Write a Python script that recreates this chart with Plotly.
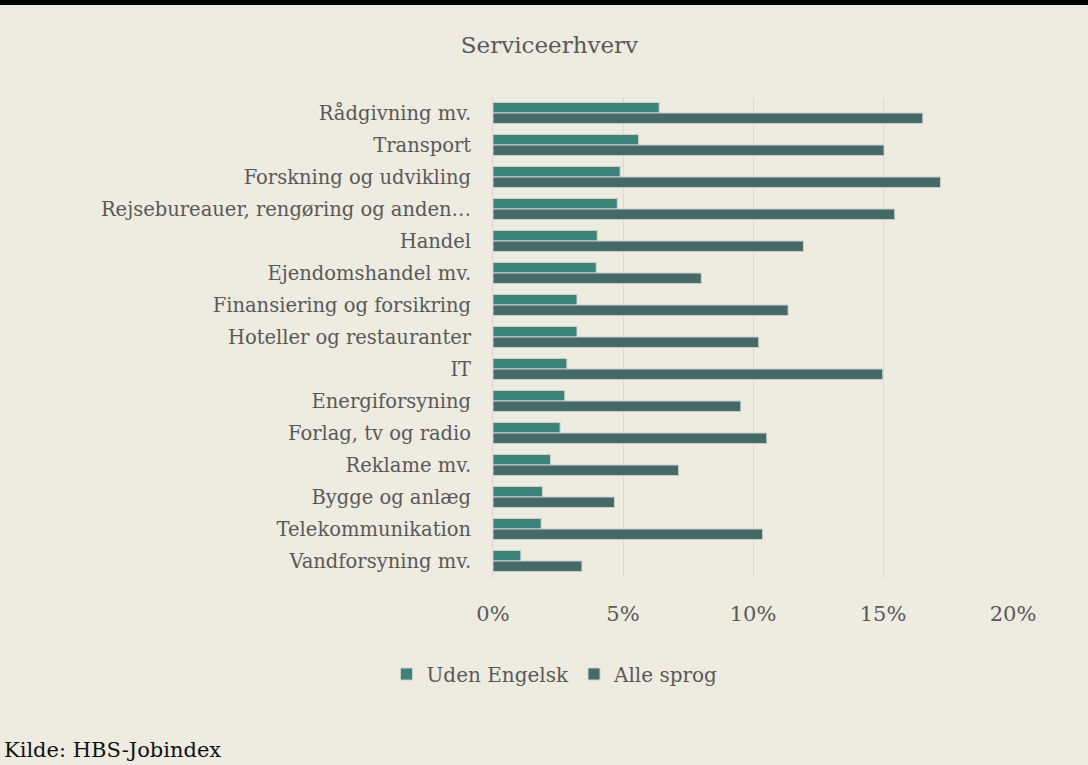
import plotly.graph_objects as go

categories = [
    "Rådgivning mv.", "Transport", "Forskning og udvikling",
    "Rejsebureauer, rengøring og anden…", "Handel", "Ejendomshandel mv.",
    "Finansiering og forsikring", "Hoteller og restauranter", "IT",
    "Energiforsyning", "Forlag, tv og radio", "Reklame mv.",
    "Bygge og anlæg", "Telekommunikation", "Vandforsyning mv.",
]
uden_engelsk = [6.39, 5.60, 4.89, 4.78, 4.01, 3.97, 3.23, 3.23, 2.84, 2.76, 2.58, 2.21, 1.90, 1.85, 1.07]
alle_sprog = [16.53, 15.04, 17.21, 15.45, 11.94, 8.01, 11.35, 10.22, 14.99, 9.53, 10.53, 7.14, 4.67, 10.37, 3.42]
x_ticks = [0, 5, 10, 15, 20]
x_tick_labels = ["0%", "5%", "10%", "15%", "20%"]

SERIF = "DejaVu Serif"
BG = "#EEEBE0"

fig = go.Figure()
fig.add_trace(go.Bar(
    y=categories, x=uden_engelsk, orientation="h", name="Uden Engelsk",
    marker=dict(color="#3F8279", line=dict(color="#C9D3CC", width=1)),
))
fig.add_trace(go.Bar(
    y=categories, x=alle_sprog, orientation="h", name="Alle sprog",
    marker=dict(color="#466A67", line=dict(color="#C9D3CC", width=1)),
))

fig.update_layout(
    width=1088, height=765,
    paper_bgcolor=BG, plot_bgcolor=BG,
    margin=dict(l=493, r=75, t=97, b=188),
    barmode="group", bargap=0.34, bargroupgap=0,
    font=dict(family=SERIF, color="#595959", size=19),
    title=dict(text="Serviceerhverv", x=0.505, xref="container", xanchor="center",
               y=1 - 45 / 765, yanchor="middle",
               font=dict(family=SERIF, size=23, color="#595959")),
    showlegend=True,
    legend=dict(orientation="h", x=(555 - 493) / 520, xanchor="center",
                y=-(674 - 577) / 480, yanchor="middle",
                font=dict(family=SERIF, size=20, color="#595959"),
                bgcolor="rgba(0,0,0,0)", traceorder="normal", itemwidth=30),
    xaxis=dict(range=[0, 20], tickvals=x_ticks, ticktext=x_tick_labels,
               showgrid=True, gridcolor="#D9D9D9", gridwidth=1,
               zeroline=False, showline=False, ticks="",
               ticklabelstandoff=22, tickfont=dict(size=21, color="#595959")),
    yaxis=dict(categoryorder="array", categoryarray=categories, autorange="reversed",
               showgrid=False, zeroline=False, showline=True, linecolor="#D9D9D9",
               ticks="", ticklabelstandoff=17, tickfont=dict(size=19.5, color="#595959")),
    shapes=[dict(type="rect", xref="paper", yref="paper",
                 x0=-493 / 520, x1=1 + 75 / 520, y0=1 + 92 / 480, y1=1 + 97 / 480,
                 fillcolor="black", line=dict(width=0))],
    annotations=[dict(text="Kilde: HBS-Jobindex", xref="paper", yref="paper",
                      x=-491 / 520, y=-(750 - 577) / 480, xanchor="left", yanchor="middle",
                      showarrow=False, font=dict(family=SERIF, size=21, color="#111111"))],
)

fig.write_html("out.html", config={"displayModeBar": False},
               post_script="document.body.style.margin='0';")
